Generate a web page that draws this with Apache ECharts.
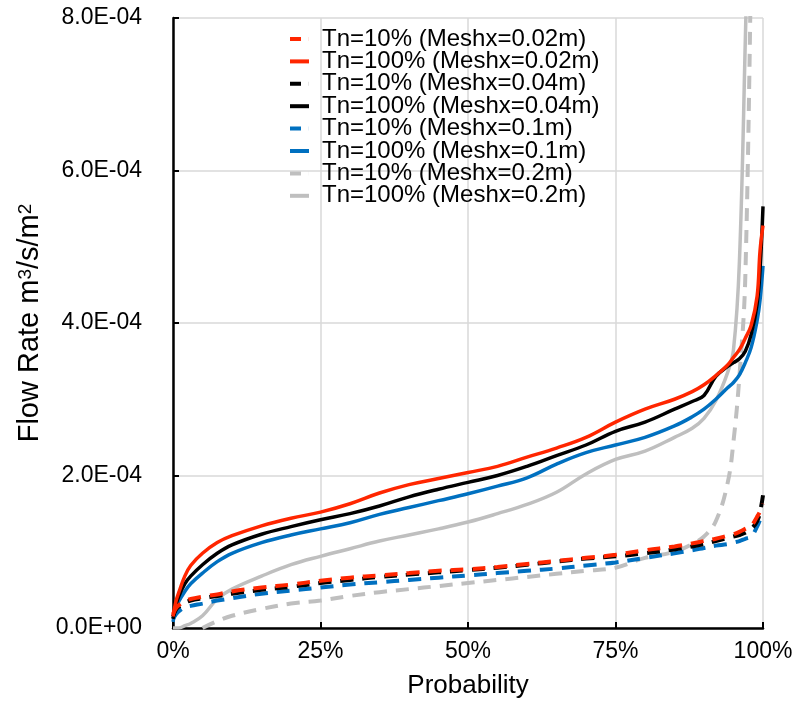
<!DOCTYPE html>
<html>
<head>
<meta charset="utf-8">
<script src="https://cdn.jsdelivr.net/npm/echarts@6/dist/echarts.min.js"></script>
<style>
  html, body { margin: 0; padding: 0; background: #fff; }
  #main { width: 806px; height: 704px; }
</style>
</head>
<body>
<div id="main"></div>
<script>
// probability (%) where the curves were read
const prob = [0, 0.5, 1, 2, 3, 5, 7.5, 10, 15, 20, 25, 30, 35, 40, 45, 50, 55, 60, 65, 70, 75, 80, 85, 88, 90, 92, 94, 95, 96, 97, 98, 99, 99.5, 100]

// flow rate in units of 1E-04 m3/s/m2
const red10 = [0.18, 0.26, 0.30, 0.35, 0.38, 0.41, 0.44, 0.48, 0.53, 0.57, 0.62, 0.66, 0.69, 0.72, 0.75, 0.77, 0.80, 0.84, 0.88, 0.92, 0.96, 1.02, 1.07, 1.11, 1.14, 1.17, 1.21, 1.23, 1.26, 1.30, 1.34, 1.46, 1.53, 1.63]
const red100 = [0.15, 0.35, 0.47, 0.68, 0.82, 0.98, 1.12, 1.21, 1.34, 1.44, 1.52, 1.63, 1.77, 1.88, 1.96, 2.04, 2.12, 2.24, 2.36, 2.50, 2.70, 2.87, 3.00, 3.10, 3.19, 3.31, 3.45, 3.55, 3.65, 3.80, 3.97, 4.35, 4.95, 5.28]
const black10 = [0.15, 0.24, 0.28, 0.33, 0.36, 0.39, 0.42, 0.45, 0.50, 0.54, 0.59, 0.63, 0.67, 0.70, 0.73, 0.76, 0.79, 0.83, 0.87, 0.91, 0.94, 0.98, 1.03, 1.07, 1.10, 1.14, 1.18, 1.20, 1.22, 1.25, 1.30, 1.40, 1.52, 1.74]
const black100 = [0.12, 0.30, 0.42, 0.58, 0.68, 0.83, 0.98, 1.09, 1.23, 1.33, 1.42, 1.50, 1.60, 1.72, 1.82, 1.91, 2.00, 2.12, 2.26, 2.40, 2.58, 2.70, 2.87, 2.97, 3.05, 3.30, 3.43, 3.48, 3.53, 3.63, 3.85, 4.25, 4.70, 5.53]
const blue10 = [0.12, 0.18, 0.22, 0.27, 0.29, 0.32, 0.36, 0.39, 0.45, 0.49, 0.53, 0.57, 0.60, 0.63, 0.66, 0.69, 0.72, 0.75, 0.78, 0.82, 0.86, 0.92, 0.98, 1.02, 1.05, 1.08, 1.10, 1.12, 1.14, 1.17, 1.20, 1.33, 1.42, 1.52]
const blue100 = [0.08, 0.25, 0.35, 0.48, 0.58, 0.72, 0.87, 0.98, 1.12, 1.22, 1.30, 1.38, 1.49, 1.58, 1.67, 1.76, 1.86, 1.97, 2.15, 2.30, 2.40, 2.50, 2.65, 2.77, 2.87, 3.00, 3.15, 3.22, 3.32, 3.48, 3.68, 4.03, 4.30, 4.75]
const gray10 = [null, null, null, null, null, 0, 0.09, 0.16, 0.25, 0.32, 0.36, 0.42, 0.47, 0.51, 0.55, 0.59, 0.63, 0.67, 0.71, 0.75, 0.79, 0.92, 1.00, 1.10, 1.20, 1.40, 1.90, 2.45, 3.30, 4.60, 9.00, null, null, null]
const gray100 = [0, 0, 0, 0.03, 0.06, 0.16, 0.38, 0.51, 0.68, 0.83, 0.94, 1.04, 1.14, 1.22, 1.30, 1.39, 1.50, 1.62, 1.78, 2.02, 2.21, 2.32, 2.50, 2.62, 2.75, 2.98, 3.35, 3.65, 4.80, 7.70, 11.0, null, null, null]

const yTicks = [0, 2, 4, 6, 8]

const RED = '#ff2600'
const BLACK = '#000000'
const BLUE = '#0070c0'
const GRAY = '#bfbfbf'

const pairs = (vals) => prob.map((p, i) => [p, vals[i]]).filter(d => d[1] !== null)

const fmtExp = (v) => {
    if (v === 0) return '0.0E+00'
    const val = v * 1e-4
    const e = Math.floor(Math.log10(val) + 1e-9)
    const m = val / Math.pow(10, e)
    const sign = e < 0 ? '-' : '+'
    return m.toFixed(1) + 'E' + sign + String(Math.abs(e)).padStart(2, '0')
}

// legend samples: short dash for Tn=10%, full bar for Tn=100%
const DASH_ICON = 'path://M0,0h11v4h-11z M18.9,0h0.1v4h-0.1z'
const BAR_ICON = 'path://M0,0h19v4h-19z'

const mk = (name, data, color, dashed, z) => ({
    name: name,
    type: 'line',
    data: pairs(data),
    symbol: 'none',
    smooth: 0.4,
    z: z,
    lineStyle: {
        color: color,
        width: dashed ? 4 : 3.5,
        type: dashed ? [13, 9] : 'solid',
        cap: 'butt'
    },
    itemStyle: { color: color }
})

const names = [
    'Tn=10% (Meshx=0.02m)', 'Tn=100% (Meshx=0.02m)',
    'Tn=10% (Meshx=0.04m)', 'Tn=100% (Meshx=0.04m)',
    'Tn=10% (Meshx=0.1m)', 'Tn=100% (Meshx=0.1m)',
    'Tn=10% (Meshx=0.2m)', 'Tn=100% (Meshx=0.2m)'
]

const chart = echarts.init(document.getElementById('main'))
const font = 'Liberation Sans, Arial, sans-serif'

const option = {
    animation: false,
    backgroundColor: '#fff',
    grid: { left: 173, right: 43, top: 18, bottom: 72 },
    legend: {
        orient: 'vertical',
        left: 290,
        top: 27,
        padding: 0,
        itemWidth: 19,
        itemHeight: 4,
        itemGap: -1.6,
        data: names.map((n, i) => ({ name: n, icon: i % 2 === 0 ? DASH_ICON : BAR_ICON })),
        textStyle: {
            fontFamily: font,
            fontSize: 24,
            color: '#000',
            padding: [0, 0, 0, 8]
        }
    },
    xAxis: {
        type: 'value',
        min: 0,
        max: 100,
        interval: 25,
        name: 'Probability',
        nameLocation: 'middle',
        nameGap: 45,
        nameTextStyle: { fontFamily: font, fontSize: 26, color: '#000' },
        axisLine: { lineStyle: { color: '#000', width: 2.5 } },
        axisTick: { show: true, inside: true, length: 6, lineStyle: { color: '#000', width: 2 } },
        axisLabel: {
            formatter: '{value}%',
            fontFamily: font,
            fontSize: 23,
            color: '#000',
            margin: 12
        },
        splitLine: { show: true, lineStyle: { color: '#d9d9d9', width: 1.5 } }
    },
    yAxis: {
        type: 'value',
        min: 0,
        max: 8,
        interval: 2,
        name: 'Flow Rate m{sup|3}/s/m{sup|2}',
        nameLocation: 'middle',
        nameGap: 120,
        nameTextStyle: {
            fontFamily: font,
            fontSize: 29,
            color: '#000',
            rich: {
                sup: { fontFamily: font, fontSize: 19, color: '#000', verticalAlign: 'top' }
            }
        },
        axisLine: { show: true, lineStyle: { color: '#000', width: 2.5 } },
        axisTick: { show: true, inside: true, length: 6, lineStyle: { color: '#000', width: 2 } },
        axisLabel: {
            formatter: (v) => yTicks.includes(v) ? fmtExp(v) : '',
            fontFamily: font,
            fontSize: 23,
            color: '#000',
            margin: 31
        },
        splitLine: { show: true, lineStyle: { color: '#d9d9d9', width: 1.5 } }
    },
    series: [
        mk(names[0], red10, RED, true, 9),
        mk(names[1], red100, RED, false, 8),
        mk(names[2], black10, BLACK, true, 7),
        mk(names[3], black100, BLACK, false, 6),
        mk(names[4], blue10, BLUE, true, 5),
        mk(names[5], blue100, BLUE, false, 4),
        mk(names[6], gray10, GRAY, true, 3),
        mk(names[7], gray100, GRAY, false, 2)
    ]
}
chart.setOption(option)
</script>
</body>
</html>
